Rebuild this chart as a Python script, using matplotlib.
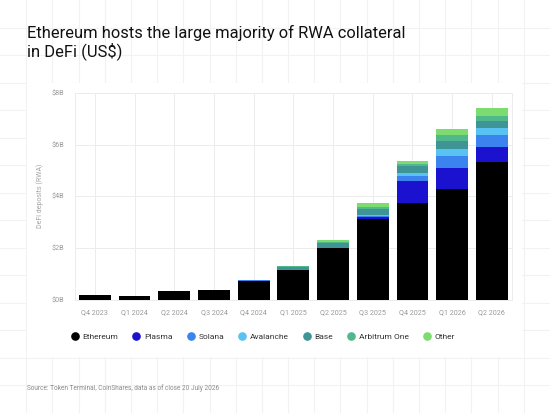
import matplotlib
matplotlib.use("Agg")
import matplotlib.pyplot as plt
from matplotlib.lines import Line2D
from matplotlib.patches import Rectangle
import numpy as np

quarters = ["Q4 2023", "Q1 2024", "Q2 2024", "Q3 2024", "Q4 2024", "Q1 2025",
            "Q2 2025", "Q3 2025", "Q4 2025", "Q1 2026", "Q2 2026"]
ethereum  = [0.17, 0.12, 0.31, 0.35, 0.72, 1.14, 2.01, 3.11, 3.72, 4.30, 5.31]
plasma    = [0.00, 0.00, 0.00, 0.00, 0.00, 0.00, 0.00, 0.09, 0.89, 0.78, 0.58]
solana    = [0.00, 0.00, 0.00, 0.00, 0.03, 0.00, 0.01, 0.04, 0.17, 0.48, 0.50]
avalanche = [0.00, 0.00, 0.00, 0.00, 0.00, 0.00, 0.00, 0.03, 0.12, 0.27, 0.27]
base      = [0.00, 0.00, 0.00, 0.00, 0.00, 0.12, 0.17, 0.22, 0.26, 0.32, 0.25]
arbitrum  = [0.00, 0.00, 0.00, 0.00, 0.00, 0.02, 0.04, 0.10, 0.10, 0.24, 0.19]
other     = [0.00, 0.00, 0.00, 0.00, 0.00, 0.01, 0.06, 0.13, 0.10, 0.23, 0.31]

series_names = ["Ethereum", "Plasma", "Solana", "Avalanche", "Base", "Arbitrum One", "Other"]
series_vals = [ethereum, plasma, solana, avalanche, base, arbitrum, other]
colors = ["#000000", "#1b12cf", "#3b84f0", "#58c3f2", "#3f9596", "#4fb98b", "#7ddc70"]
yticks = [0, 2, 4, 6, 8]
ytick_labels = ["$0B", "$2B", "$4B", "$6B", "$8B"]

plt.rcParams["font.family"] = ["Roboto", "DejaVu Sans"]

W, H = 550, 413
fig = plt.figure(figsize=(5.5, 4.13), dpi=100)
fig.patch.set_facecolor("white")

# background grid (figure-level)
bg = fig.add_axes([0, 0, 1, 1], zorder=-10)
bg.set_xlim(0, W); bg.set_ylim(H, 0); bg.axis("off")
gc = "#f2f2f2"
for k in range(1, 21):
    bg.axvline(k * W / 21, color=gc, lw=0.8)
for k in range(1, 15):
    bg.axhline(k * H / 15, color=gc, lw=0.8)
bg.add_patch(Rectangle((W / 21 + 0.5, 3 * H / 15 + 0.5), 522.3 - W / 21 - 1, 10 * H / 15 - 1,
                       facecolor="white", edgecolor="none", zorder=5))

ax = fig.add_axes([75 / W, 1 - 299.5 / H, (511.7 - 75) / W, (299.5 - 93) / H])
x = np.arange(len(quarters))
bottom = np.zeros(len(quarters))
for name, vals, c in zip(series_names, series_vals, colors):
    v = np.array(vals)
    ax.bar(x, v, bottom=bottom, width=0.8, color=c, edgecolor="none", zorder=3, label=name)
    bottom += v

ax.set_xlim(-0.5, len(quarters) - 0.5)
ax.set_ylim(0, 8)
ax.set_yticks(yticks)
ax.set_yticklabels(ytick_labels)
ax.set_xticks(x)
ax.set_xticklabels(quarters)
ax.tick_params(axis="both", length=0, labelsize=5.2, labelcolor="#9a9a9a")
ax.tick_params(axis="y", pad=8)
ax.tick_params(axis="x", pad=7)
ax.grid(True, color="#ececec", lw=0.7, zorder=0)
for s in ax.spines.values():
    s.set_color("#ececec")
    s.set_linewidth(0.7)
ax.set_ylabel("DeFi deposits (RWA)", fontsize=5.0, color="#a5a5a5", labelpad=5)

fig.text(27 / W, 1 - 25 / H, "Ethereum hosts the large majority of RWA collateral\nin DeFi (US$)",
         fontsize=11.9, color="#111111", va="top", ha="left", linespacing=1.08)

handles = [Line2D([0], [0], marker="o", ls="none", markersize=5.2, markerfacecolor=c,
                  markeredgecolor=c) for c in colors]
fig.legend(handles, series_names, loc="center", bbox_to_anchor=(0.477, 1 - 336.7 / H),
           ncol=7, frameon=False, fontsize=6.0, labelcolor="#333333",
           handletextpad=0.3, columnspacing=1.6, handlelength=1.2)

fig.text(27 / W, 1 - 388 / H, "Source: Token Terminal, CoinShares, data as of close 20 July 2026",
         fontsize=4.7, color="#8a8a8a", va="center", ha="left")

fig.savefig("out.png", dpi=100)
